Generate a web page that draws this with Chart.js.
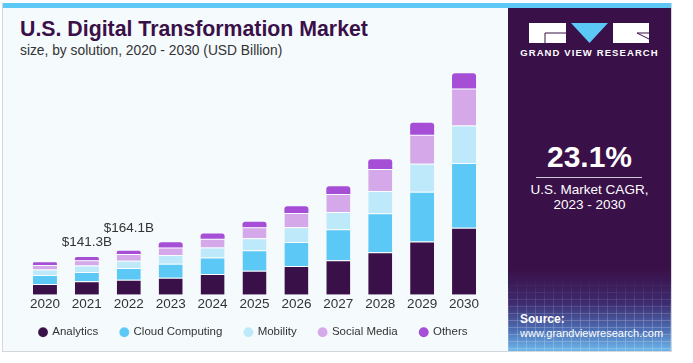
<!DOCTYPE html>
<html>
<head>
<meta charset="utf-8">
<script src="https://cdn.jsdelivr.net/npm/chart.js@4.4.0/dist/chart.umd.min.js"></script>
<style>
  body { margin: 0; width: 693px; height: 363px; background: #fff; position: relative; overflow: hidden; font-family: "Liberation Sans", Arial, sans-serif; }
  #frame { position: absolute; left: 2px; top: 3px; width: 670px; height: 349px; box-sizing: border-box; border: 1px solid #d3d6da; background: #f5fafd; }
  #strip { position: absolute; left: 3px; top: 3px; width: 668px; height: 5px; background: #5bc8f5; }
  #title { position: absolute; left: 20px; top: 19px; font-size: 21.3px; line-height: 21px; font-weight: bold; color: #3a1049; white-space: nowrap; }
  #subtitle { position: absolute; left: 20px; top: 44px; font-size: 13.8px; line-height: 14px; color: #333; white-space: nowrap; }
  #chartBox { position: absolute; left: 0; top: 60px; width: 507px; height: 297px; }
  #panel { position: absolute; left: 508px; top: 8px; width: 163px; height: 343px; overflow: hidden;
    background: linear-gradient(to bottom, #3a1049 0%, #3a1049 76%, #3d2a6e 86%, #4d6fb5 94%, #6cb6ea 100%); }
  #grid { position: absolute; left: 0; top: 270px; width: 163px; height: 73px; opacity: 0.4;
    background:
      repeating-linear-gradient(to right, rgba(255,255,255,0.5) 0 1px, transparent 1px 9px),
      repeating-linear-gradient(to bottom, rgba(255,255,255,0.5) 0 1px, transparent 1px 7px);
    -webkit-mask-image: linear-gradient(to bottom, transparent, #000 60%); }
  .pt { position: absolute; color: #fff; white-space: nowrap; }
  #logoText { left: 0; width: 163px; top: 40px; text-align: center; font-size: 9.5px; line-height: 10px; font-weight: bold; letter-spacing: 1.1px; }
  #cagr { left: 0; width: 163px; top: 134px; text-align: center; font-size: 30px; line-height: 30px; font-weight: bold; }
  #rule { position: absolute; left: 28px; top: 169px; width: 106px; height: 1px; background: #cfc6d8; }
  #cagrText { left: 0; width: 163px; top: 175px; text-align: center; font-size: 13.5px; line-height: 14.5px; }
  #source { left: 12px; top: 304px; font-size: 11px; line-height: 14px; }
</style>
</head>
<body>
<div id="frame"></div>
<div id="strip"></div>
<div id="title">U.S. Digital Transformation Market</div>
<div id="subtitle">size, by solution, 2020 - 2030 (USD Billion)</div>
<div id="chartBox"><canvas id="marketChart"></canvas></div>
<div id="panel">
  <div id="grid"></div>
  <svg style="position:absolute;left:21px;top:15px" width="121" height="21" viewBox="0 0 121 21">
    <rect x="0" y="0" width="37" height="20" fill="#fff"/>
    <path d="M16 10 H37 M16 10 V20" stroke="#3a1049" stroke-width="1" fill="none"/>
    <polygon points="42,0 79,0 60.5,20" fill="#5bc8f5"/>
    <rect x="84" y="0" width="36" height="20" fill="#fff"/>
    <path d="M108 10 H120 M108 10 L120 16" stroke="#3a1049" stroke-width="1" fill="none"/>
  </svg>
  <div class="pt" id="logoText">GRAND VIEW RESEARCH</div>
  <div class="pt" id="cagr">23.1%</div>
  <div id="rule"></div>
  <div class="pt" id="cagrText">U.S. Market CAGR,<br>2023 - 2030</div>
  <div class="pt" id="source"><b style="font-size:12px">Source:</b><br>www.grandviewresearch.com</div>
</div>
<script>
// Market size by solution, USD billion
const years = ['2020', '2021', '2022', '2023', '2024', '2025', '2026', '2027', '2028', '2029', '2030'];
const analytics = [40.5, 50.5, 56.5, 63.8, 77.5, 89.7, 107, 129.2, 158.7, 198.2, 249.8];
const cloudComputing = [33, 34.3, 43.5, 51.7, 61.6, 76.4, 89.7, 115.5, 145, 185.6, 241];
const mobility = [20.5, 24.7, 27, 33.2, 36.9, 44.3, 55.4, 64.2, 82.7, 104.4, 140.2];
const socialMedia = [17, 19.6, 24.8, 27.3, 33.2, 41.7, 53.1, 66.4, 82.3, 108.5, 137.6];
const others = [10, 12.2, 12.3, 19.6, 19.6, 19.9, 24.4, 29.5, 36.9, 44.3, 56.8];
const valueLabels = ['', '$141.3B', '$164.1B', '', '', '', '', '', '', '', ''];

const font = '"Liberation Sans", Arial, sans-serif';

// total labels above the 2021 / 2022 bars
const totalLabels = {
    id: 'totalLabels',
    afterDatasetsDraw(chart) {
        const { ctx, scales: { x, y } } = chart;
        const lift = { 1: 15, 2: 22.5 };
        ctx.save();
        ctx.font = '13.5px ' + font;
        ctx.fillStyle = '#333';
        ctx.textAlign = 'center';
        ctx.textBaseline = 'middle';
        valueLabels.forEach((txt, i) => {
            if (!txt) return;
            const total = chart.data.datasets.reduce((s, ds) => s + ds.data[i], 0);
            ctx.fillText(txt, x.getPixelForValue(i), y.getPixelForValue(total) - (lift[i] || 16));
        });
        ctx.restore();
    }
};

// pull the legend a bit closer to the year labels
const legendNudge = {
    id: 'legendNudge',
    afterLayout(chart) {
        chart.legend.top -= 9;
        chart.legend.bottom -= 9;
    }
};

const bar = (label, data, color, extra = {}) => ({
    label, data, backgroundColor: color,
    borderColor: 'rgba(255,255,255,0.5)', borderWidth: { top: 1 },
    barPercentage: 0.573, categoryPercentage: 1,
    ...extra
});

// invisible side axes just reserve room so the legend can use the full width
const spacer = (w, pos) => ({
    position: pos, display: true,
    grid: { display: false }, border: { display: false }, ticks: { display: false },
    afterFit: s => { s.width = w; }
});

new Chart(document.getElementById('marketChart'), {
    type: 'bar',
    data: {
        labels: years,
        datasets: [
            bar('Analytics', analytics, '#3a1049'),
            bar('Cloud Computing', cloudComputing, '#5bc8f5'),
            bar('Mobility', mobility, '#bde9fa'),
            bar('Social Media', socialMedia, '#d5a8ea'),
            bar('Others', others, '#a64fd6', { borderWidth: 0, borderRadius: { topLeft: 3, topRight: 3, bottomLeft: 0, bottomRight: 0 } })
        ]
    },
    options: {
        responsive: true,
        maintainAspectRatio: false,
        animation: false,
        layout: { padding: 0 },
        scales: {
            x: {
                stacked: true,
                grid: { display: false, drawTicks: false },
                border: { display: false },
                ticks: { color: '#333', font: { family: font, size: 13.5 }, padding: 1 }
            },
            y: { stacked: true, min: 0, max: 875, ...spacer(24, 'left') },
            yRight: { type: 'linear', ...spacer(22, 'right') }
        },
        plugins: {
            legend: {
                position: 'bottom',
                labels: {
                    usePointStyle: true, pointStyle: 'circle',
                    boxWidth: 7, boxHeight: 7, padding: 22.5,
                    color: '#333', font: { family: font, size: 11.5 }
                }
            },
            tooltip: { enabled: false }
        }
    },
    plugins: [totalLabels, legendNudge]
});
</script>
</body>
</html>
